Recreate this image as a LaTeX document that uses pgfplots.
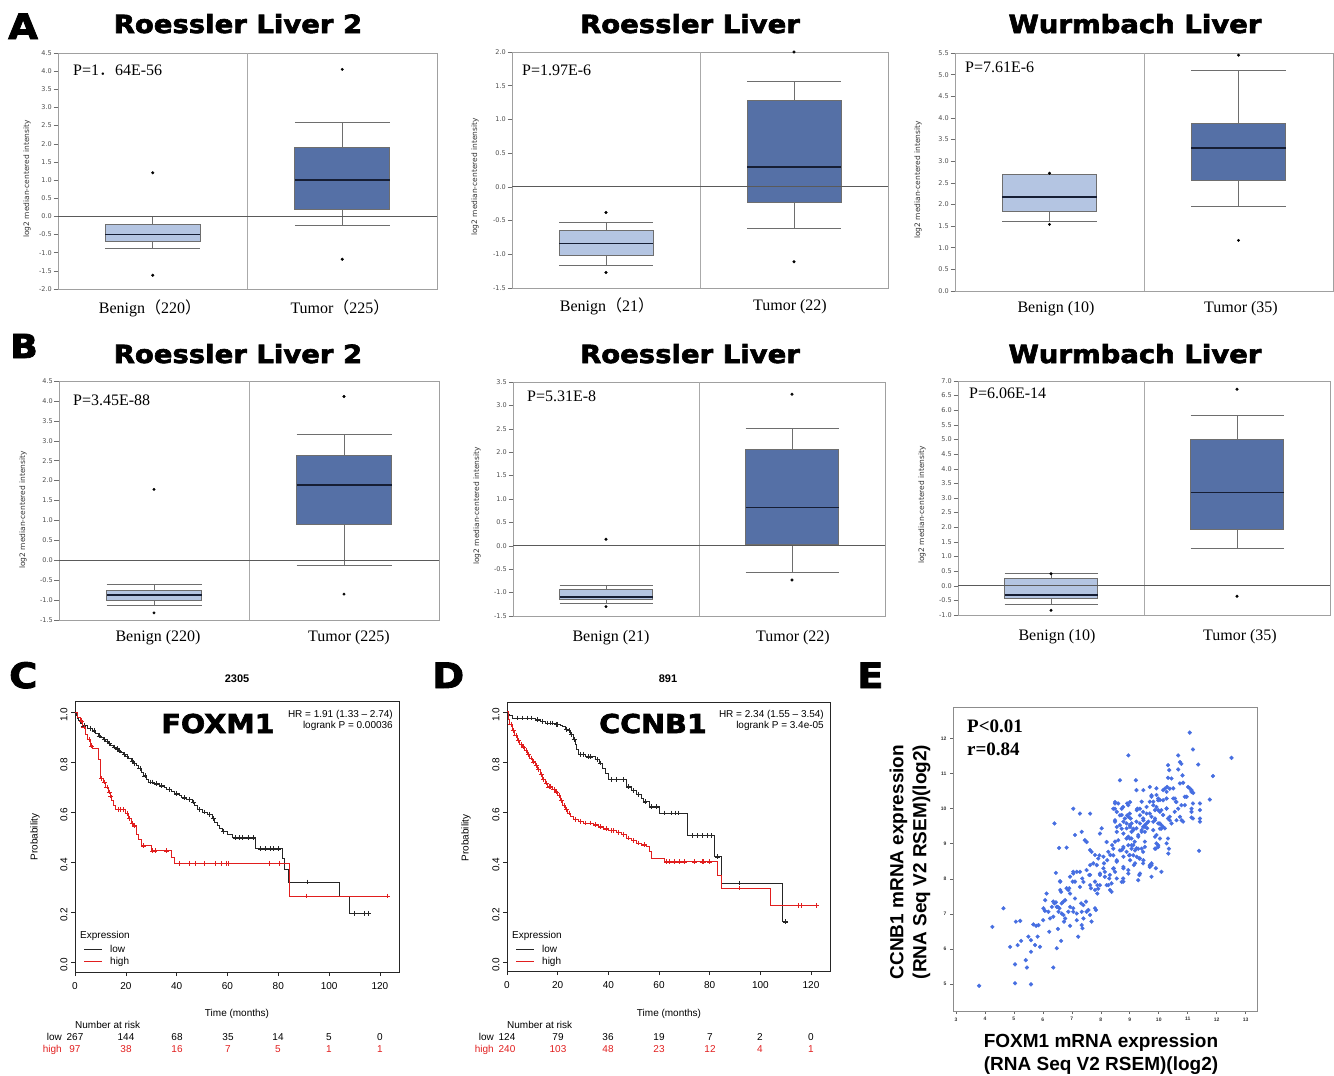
\documentclass[border=0pt]{standalone}
\usepackage{fontspec}
\setmainfont{Liberation Serif}
\setsansfont{Liberation Sans}
\newfontfamily\heavy{DejaVu Sans}[FakeBold=2.5, FakeStretch=1.1]
\newfontfamily\dejavu{DejaVu Sans}
\newfontfamily\cjk{Noto Sans CJK SC}
\usepackage{pgfplots}
\pgfplotsset{compat=1.18}
\usepgfplotslibrary{statistics}

\definecolor{benign}{RGB}{180,197,226}
\definecolor{tumor}{RGB}{85,112,166}
\definecolor{boxedge}{RGB}{110,110,110}
\definecolor{mednavy}{RGB}{22,30,52}
\definecolor{framec}{RGB}{160,160,160}
\definecolor{zeroc}{RGB}{90,90,90}
\definecolor{divc}{RGB}{170,170,170}
\definecolor{kmred}{RGB}{225,30,30}
\definecolor{scat}{RGB}{70,110,225}

\newcommand{\fs}[1]{\fontsize{#1bp}{#1bp}\selectfont}

% one prepared box: position, fill, lower whisker, q1, median, q3, upper whisker
\newcommand{\obox}[7]{%
  \addplot[boxplot prepared={draw position=#1, lower whisker=#3, lower quartile=#4,
      median=#5, upper quartile=#6, upper whisker=#7, box extend=0.5, whisker extend=0.5},
    boxplot/draw direction=y,
    draw=boxedge, line width=0.8bp, fill=#2,
    boxplot/every whisker/.style={fill=none}] coordinates {};
  \pgfmathsetmacro\xl{#1-0.25}\pgfmathsetmacro\xr{#1+0.25}%
  \addplot[mednavy, line width=1.8bp] coordinates {(\xl,#5) (\xr,#5)};}

\pgfplotsset{
  onc/.style={scale only axis, xmin=0, xmax=2, xtick=\empty,
    axis line style={draw=framec, line width=0.8bp},
    tick align=outside, ytick pos=left, major tick length=4.5bp,
    tick style={draw=boxedge, line width=0.5bp},
    yticklabel style={font=\dejavu\fs{6.5}, text=black!70, inner sep=1.5bp},
    yticklabel={\pgfmathprintnumber[fixed, fixed zerofill, precision=1, assume math mode=true]{\tick}},
    clip=false},
  km/.style={scale only axis, xmin=0, xmax=127.5,
    xtick={0,20,...,120}, ytick={0,0.2,...,1},
    tick align=outside, xtick pos=bottom, ytick pos=left, major tick length=4bp,
    axis line style={draw=black!85, line width=0.6bp},
    tick style={draw=black!85, line width=0.5bp},
    ticklabel style={font=\sffamily\fs{10}},
    xticklabel style={yshift=-3bp},
    yticklabel style={rotate=90, anchor=south, xshift=-3bp},
    yticklabel={\pgfmathprintnumber[fixed, fixed zerofill, precision=1, assume math mode=true]{\tick}},
    xticklabel={\pgfmathprintnumber[assume math mode=true]{\tick}},
    clip=false},
  sc/.style={scale only axis, xmin=2.9, xmax=13.39, ymin=4.23, ymax=12.9,
    xtick={3,...,13}, ytick={5,...,12},
    tick align=outside, xtick pos=bottom, ytick pos=left, major tick length=3bp,
    axis line style={draw=black!45, line width=1bp},
    tick style={draw=black!60, line width=0.6bp},
    ticklabel style={font=\sffamily\bfseries\fs{5}, text=black!80},
    /pgf/number format/assume math mode=true, clip=false},
}

\begin{document}
\begin{tikzpicture}
\useasboundingbox (0,0) rectangle (1334bp,-1076bp);

% ---------------- A1 ----------------
\begin{axis}[onc, at={(58bp,-289bp)}, anchor=south west, width=379bp, height=236bp,
  ymin=-2, ymax=4.5, ytick={-2,-1.5,...,4.5}]
\draw[divc, line width=0.8bp] (rel axis cs:0.5,0) -- (rel axis cs:0.5,1);
\obox{0.5}{benign}{-0.88}{-0.68}{-0.5}{-0.22}{0.0}
\obox{1.5}{tumor}{-0.25}{0.2}{1.0}{1.9}{2.6}
\addplot[only marks, mark=*, mark size=1.3bp, black] coordinates {(0.5,1.2) (0.5,-1.62) (1.5,4.05) (1.5,-1.18)};
\draw[zeroc, line width=1bp] (axis cs:0,0) -- (axis cs:2,0);
\end{axis}

% ---------------- A2 ----------------
\begin{axis}[onc, at={(512bp,-288bp)}, anchor=south west, width=376bp, height=236bp,
  ymin=-1.5, ymax=2, ytick={-1.5,-1,...,2}]
\draw[divc, line width=0.8bp] (rel axis cs:0.5,0) -- (rel axis cs:0.5,1);
\obox{0.5}{benign}{-1.17}{-1.01}{-0.84}{-0.65}{-0.52}
\obox{1.5}{tumor}{-0.61}{-0.23}{0.30}{1.28}{1.56}
\addplot[only marks, mark=*, mark size=1.3bp, black] coordinates {(0.5,-0.38) (0.5,-1.27) (1.5,2.0) (1.5,-1.11)};
\draw[zeroc, line width=1bp] (axis cs:0,0) -- (axis cs:2,0);
\end{axis}

% ---------------- A3 ----------------
\begin{axis}[onc, at={(955bp,-291bp)}, anchor=south west, width=378bp, height=238bp,
  ymin=0, ymax=5.5, ytick={0,0.5,...,5.5}]
\draw[divc, line width=0.8bp] (rel axis cs:0.5,0) -- (rel axis cs:0.5,1);
\obox{0.5}{benign}{1.61}{1.83}{2.18}{2.70}{2.70}
\obox{1.5}{tumor}{1.95}{2.56}{3.30}{3.88}{5.09}
\addplot[only marks, mark=*, mark size=1.3bp, black] coordinates {(0.5,2.72) (0.5,1.54) (1.5,5.45) (1.5,1.17)};
\end{axis}

% ---------------- B1 ----------------
\begin{axis}[onc, at={(59bp,-620bp)}, anchor=south west, width=380bp, height=239bp,
  ymin=-1.5, ymax=4.5, ytick={-1.5,-1,...,4.5}]
\draw[divc, line width=0.8bp] (rel axis cs:0.5,0) -- (rel axis cs:0.5,1);
\obox{0.5}{benign}{-1.13}{-1.00}{-0.87}{-0.75}{-0.60}
\obox{1.5}{tumor}{-0.14}{0.91}{1.89}{2.62}{3.17}
\addplot[only marks, mark=*, mark size=1.3bp, black] coordinates {(0.5,1.78) (0.5,-1.32) (1.5,4.11) (1.5,-0.85)};
\draw[zeroc, line width=1bp] (axis cs:0,0) -- (axis cs:2,0);
\end{axis}

% ---------------- B2 ----------------
\begin{axis}[onc, at={(513bp,-616bp)}, anchor=south west, width=372bp, height=234bp,
  ymin=-1.5, ymax=3.5, ytick={-1.5,-1,...,3.5}]
\draw[divc, line width=0.8bp] (rel axis cs:0.5,0) -- (rel axis cs:0.5,1);
\obox{0.5}{benign}{-1.22}{-1.15}{-1.09}{-0.93}{-0.85}
\obox{1.5}{tumor}{-0.57}{0.03}{0.82}{2.07}{2.50}
\addplot[only marks, mark=*, mark size=1.3bp, black] coordinates {(0.5,0.14) (0.5,-1.30) (1.5,3.24) (1.5,-0.73)};
\draw[zeroc, line width=1bp] (axis cs:0,0) -- (axis cs:2,0);
\end{axis}

% ---------------- B3 ----------------
\begin{axis}[onc, at={(958bp,-615bp)}, anchor=south west, width=372bp, height=234bp,
  ymin=-1, ymax=7, ytick={-1,-0.5,...,7}]
\draw[divc, line width=0.8bp] (rel axis cs:0.5,0) -- (rel axis cs:0.5,1);
\obox{0.5}{benign}{-0.65}{-0.42}{-0.31}{0.25}{0.41}
\obox{1.5}{tumor}{1.28}{1.93}{3.19}{5.00}{5.81}
\addplot[only marks, mark=*, mark size=1.3bp, black] coordinates {(0.5,0.41) (0.5,-0.84) (1.5,6.72) (1.5,-0.36)};
\draw[zeroc, line width=1bp] (axis cs:0,0) -- (axis cs:2,0);
\end{axis}

% ---------------- C : FOXM1 KM ----------------
\begin{axis}[km, at={(75bp,-972bp)}, anchor=south west, width=324bp, height=271bp,
  ymin=-0.04, ymax=1.044]
\addplot[const plot, black!85, line width=0.7bp] coordinates {
 (0,1.0) (0.5,0.985) (1,0.975) (1.5,0.965) (2,0.955) (3,0.945) (5,0.935) (7,0.925)
 (8,0.915) (9,0.905) (10,0.897) (11,0.89) (12,0.882) (13,0.875) (14,0.868) (15,0.86)
 (16,0.853) (17,0.845) (18,0.838) (19,0.83) (20,0.822) (21,0.813) (22,0.805) (23,0.795)
 (24,0.785) (25,0.775) (26,0.76) (27,0.745) (28,0.73) (29,0.72) (31,0.713) (33,0.705)
 (35,0.697) (36,0.69) (38,0.682) (39,0.673) (41,0.665) (42,0.657) (44,0.65) (46,0.64)
 (47,0.625) (48,0.61) (50,0.6) (52,0.59) (54,0.575) (55,0.56) (56,0.545) (57,0.535)
 (58,0.523) (60,0.51) (62,0.497) (71,0.453) (81.5,0.413) (82.5,0.37) (84,0.32)
 (104,0.264) (108,0.195) (116,0.195)};
\addplot[only marks, mark=+, mark size=2.4bp, black!85, line width=0.5bp] coordinates {
 (3.5,0.945) (6,0.935) (7.5,0.925) (9.5,0.905) (11.5,0.89) (12.5,0.882) (13.5,0.875)
 (15.5,0.86) (16.5,0.853) (17.5,0.845) (19.5,0.83) (20.5,0.822) (22.5,0.805) (23.5,0.795)
 (25.5,0.775) (27.5,0.745) (29.5,0.72) (30.5,0.72) (32,0.713) (34,0.705) (37,0.69)
 (40,0.673) (43,0.657) (45,0.65) (46.5,0.64) (49,0.61) (51,0.6) (53,0.59) (54.5,0.575)
 (58.5,0.523) (63,0.497) (64.5,0.497) (66,0.497) (68,0.497) (70,0.497) (73,0.453)
 (75,0.453) (77,0.453) (78,0.453) (80,0.453) (91.5,0.32) (110,0.195) (114,0.195) (115.5,0.195)};
\addplot[const plot, kmred, line width=0.7bp] coordinates {
 (0,1.0) (1,0.98) (2,0.965) (3,0.94) (4,0.91) (5,0.89) (6,0.865) (7,0.855) (9,0.81)
 (10,0.735) (11,0.72) (12,0.70) (13,0.68) (14,0.665) (14.5,0.645) (15,0.625) (16,0.61)
 (20,0.595) (21,0.575) (22,0.555) (23,0.545) (24,0.51) (25,0.49) (26,0.465) (30,0.445)
 (38,0.42) (39,0.395) (84.5,0.264) (123,0.264)};
\addplot[only marks, mark=+, mark size=2.4bp, kmred, line width=0.5bp] coordinates {
 (2.5,0.965) (3.5,0.94) (5.5,0.89) (6.5,0.865) (10.5,0.735) (11.5,0.72) (12.5,0.70)
 (13.5,0.68) (14,0.665) (17,0.61) (18,0.61) (19,0.61) (20.5,0.595) (21.5,0.575)
 (22.5,0.555) (23.5,0.545) (27,0.465) (30.5,0.445) (31.5,0.445) (36,0.445) (41,0.395)
 (45,0.395) (47.5,0.395) (51,0.395) (55,0.395) (57.5,0.395) (59.5,0.395) (60.5,0.395)
 (76.5,0.395) (80.5,0.395) (91,0.264) (123,0.264)};
\end{axis}

% ---------------- D : CCNB1 KM ----------------
\begin{axis}[km, at={(507bp,-971bp)}, anchor=south west, width=323bp, height=269bp,
  ymin=-0.037, ymax=1.039]
\addplot[const plot, black!85, line width=0.7bp] coordinates {
 (0,1.0) (0.5,0.99) (1,0.985) (2,0.975) (11,0.968) (13,0.962) (15,0.955) (19,0.95)
 (21,0.945) (22,0.94) (23,0.93) (24,0.925) (25,0.91) (26,0.89) (27,0.87) (27.5,0.85)
 (28,0.83) (31,0.82) (35,0.81) (36.5,0.795) (37.5,0.775) (39,0.755) (40,0.73) (47,0.70)
 (49,0.685) (51,0.67) (53,0.655) (54,0.64) (56,0.62) (60,0.595) (71,0.505) (82,0.42)
 (84.5,0.315) (108.5,0.16) (111,0.16)};
\addplot[only marks, mark=+, mark size=2.4bp, black!85, line width=0.5bp] coordinates {
 (4,0.975) (6,0.975) (8,0.975) (9.5,0.975) (12,0.968) (14,0.962) (16,0.955) (17,0.955)
 (18,0.955) (19.5,0.95) (20,0.95) (23.5,0.93) (24.5,0.925) (25.5,0.91) (26.5,0.89)
 (29,0.83) (30,0.83) (32,0.82) (33,0.82) (35.5,0.81) (37,0.795) (41,0.73) (43,0.73)
 (46,0.73) (48,0.70) (50,0.685) (52,0.67) (54.5,0.64) (57,0.62) (59,0.62) (62,0.595)
 (65,0.595) (66.5,0.595) (67.5,0.595) (73,0.505) (75,0.505) (77,0.505) (79,0.505)
 (80.5,0.505) (83,0.42) (91.5,0.315) (110,0.16)};
\addplot[const plot, kmred, line width=0.7bp] coordinates {
 (0,1.0) (0.5,0.97) (1,0.95) (2,0.925) (3,0.905) (4,0.885) (5,0.87) (6,0.86) (7,0.845)
 (8,0.83) (9,0.815) (10,0.80) (11,0.785) (12,0.77) (13,0.75) (14,0.73) (15,0.715)
 (16,0.70) (18,0.69) (19,0.68) (20,0.665) (21,0.645) (22,0.625) (23,0.61) (24,0.595)
 (25,0.58) (26,0.57) (28,0.562) (30,0.555) (34,0.548) (36,0.54) (38,0.532) (40,0.525)
 (43,0.518) (45,0.51) (47,0.495) (49,0.485) (51,0.475) (53,0.468) (55,0.46) (56,0.44)
 (57,0.415) (62,0.40) (83,0.345) (84.5,0.295) (104,0.225) (123,0.225)};
\addplot[only marks, mark=+, mark size=2.4bp, kmred, line width=0.5bp] coordinates {
 (1.5,0.95) (2.5,0.925) (3.5,0.905) (4.5,0.885) (5.5,0.87) (6.5,0.86) (7.5,0.845)
 (8.5,0.83) (9.5,0.815) (10.5,0.80) (11.5,0.785) (12.5,0.77) (13.5,0.75) (14.5,0.73)
 (15.5,0.715) (16.5,0.70) (17,0.70) (18.5,0.69) (19.5,0.68) (20.5,0.665) (21.5,0.645)
 (22.5,0.625) (23.5,0.61) (24.5,0.595) (27,0.57) (29,0.562) (31,0.555) (33,0.555)
 (35,0.548) (37,0.54) (39,0.532) (41,0.525) (42,0.525) (44,0.518) (46,0.51) (48,0.495)
 (50,0.485) (52,0.475) (54,0.468) (63,0.40) (64,0.40) (66,0.40) (68,0.40) (70,0.40)
 (74,0.40) (77,0.40) (77.5,0.40) (80,0.40) (91.5,0.295) (115,0.225) (116,0.225) (122,0.225)};
\end{axis}

% ---------------- E : scatter ----------------
\begin{axis}[sc, at={(953bp,-1011bp)}, anchor=south west, width=304bp, height=304bp]
\addplot[only marks, mark=*, mark size=1.9bp, scat, mark options={draw=scat, fill=scat}] coordinates {
(3.80,4.95)(4.26,6.63)(4.64,7.16)(4.87,6.06)(5.07,6.78)(5.22,6.80)(5.04,5.56)(5.04,5.02)
(5.13,6.11)(5.25,6.23)(5.41,5.68)(5.45,5.47)(5.50,6.35)(5.59,6.25)(5.59,5.92)(5.59,4.99)
(5.73,6.11)(5.82,6.35)(5.90,6.06)(5.67,6.70)(5.77,6.66)(5.85,6.68)(6.01,6.82)(6.07,7.09)
(6.13,7.58)(6.22,6.49)(6.25,6.87)(6.36,5.47)(6.40,9.58)(6.40,7.30)(6.45,7.33)(6.52,7.20)
(6.45,8.17)(6.48,6.02)(6.52,6.57)(6.56,8.88)(6.59,7.93)(6.63,7.63)(6.57,7.16)(6.65,7.01)
(6.63,6.23)(6.71,7.35)(6.73,6.78)(6.77,6.87)(6.82,8.89)(6.88,7.68)(6.91,7.73)(6.94,7.20)
(6.94,6.66)(7.05,10.0)(7.11,9.25)(7.05,8.15)(7.17,8.20)(7.03,7.92)(7.11,7.44)(7.05,7.06)
(7.17,7.01)(7.22,6.35)(7.17,6.82)(7.28,9.86)(7.34,9.34)(7.28,8.20)(7.36,8.01)(7.32,7.30)
(7.40,6.87)(7.34,6.68)(7.37,6.59)(7.45,9.10)(7.51,9.05)(7.49,7.35)(7.51,7.06)(7.57,7.11)
(7.63,9.86)(7.63,8.82)(7.60,8.11)(7.63,7.82)(7.66,7.73)(7.68,6.78)(7.74,8.44)(7.86,8.39)
(7.80,7.92)(7.88,7.82)(7.83,7.11)(7.95,8.67)(7.97,8.11)(7.97,7.82)(7.88,7.58)(8.03,9.44)
(8.09,8.63)(8.09,8.30)(8.14,8.20)(8.20,7.82)(8.20,9.05)(8.26,8.77)(8.29,8.01)(8.32,7.68)
(8.37,7.63)(8.43,8.67)(8.45,8.30)(8.49,8.20)(8.43,8.86)(8.49,10.15)(8.55,9.91)(8.55,9.34)
(8.60,9.10)(8.55,8.49)(8.55,8.01)(8.66,10.81)(8.72,9.82)(8.78,9.63)(8.72,8.82)(8.78,8.63)
(8.78,8.30)(8.78,7.92)(8.89,9.15)(8.89,9.44)(8.95,11.52)(8.95,8.96)(8.98,8.67)(9.00,9.86)
(9.06,9.58)(9.06,9.34)(9.06,8.96)(9.12,8.67)(9.14,8.39)(9.21,10.81)(9.23,10.53)(9.26,10.0)
(9.23,9.44)(9.29,9.20)(9.29,8.86)(9.33,8.58)(9.33,8.11)(9.29,7.96)(9.41,10.20)(9.46,9.72)
(9.46,9.48)(9.52,9.34)(9.46,8.77)(9.52,9.06)(9.58,9.86)(9.60,9.44)(9.69,10.62)(9.75,10.38)
(9.69,8.39)(9.75,8.06)(9.81,10.20)(9.81,9.63)(9.87,9.96)(9.90,8.86)(9.90,8.30)(9.92,10.58)
(9.98,10.29)(10.04,9.91)(10.09,9.53)(10.09,8.20)(10.04,9.15)(9.98,8.91)(10.15,9.82)(10.21,9.44)
(10.27,10.48)(10.29,10.62)(10.27,10.0)(10.32,9.72)(10.32,11.24)(10.36,11.10)(10.32,9.15)(10.35,8.86)
(10.44,10.86)(10.50,10.58)(10.50,10.29)(10.55,9.91)(10.61,9.67)(10.59,10.20)(10.67,11.52)(10.73,11.33)
(10.78,11.28)(10.73,10.72)(10.82,10.95)(10.78,10.10)(10.84,9.63)(10.90,10.34)(11.01,10.62)(11.07,10.58)
(11.07,12.17)(11.18,11.69)(11.13,10.48)(11.18,10.15)(11.13,9.91)(11.18,9.72)(11.36,11.26)(11.42,10.15)
(11.42,9.96)(11.42,9.72)(11.42,9.63)(11.39,8.80)(11.76,10.26)(11.87,10.93)(12.51,11.45)
(10.32,10.88)(7.68,8.77)(7.97,9.29)(8.39,8.96)(8.49,9.06)(8.60,10.15)(8.77,10.05)(8.91,10.15)
(8.49,9.63)(8.66,9.53)(8.91,9.81)(9.03,9.72)(8.49,10.0)(9.00,9.53)(9.12,9.43)(9.23,9.63)
(9.35,9.81)(9.46,9.91)(9.00,9.15)(9.17,9.06)(8.77,8.87)(8.89,8.77)(9.00,8.68)(9.12,8.96)
(9.23,8.87)(9.41,9.39)(9.52,9.53)(9.64,9.63)(9.58,10.05)(9.69,10.2)(9.81,10.1)(9.92,10.39)
(10.04,10.25)(10.15,10.53)(9.87,9.72)(9.98,9.58)(10.09,9.43)(10.27,10.01)(10.38,9.77)(9.87,9.20)
(9.98,8.96)(9.75,8.39)(9.35,8.58)(9.46,8.44)(8.33,8.68)(8.22,8.53)(8.11,8.44)(7.91,8.58)
(7.80,8.68)(7.97,8.15)(8.14,8.06)(8.31,8.11)(7.63,8.39)(7.51,8.25)(7.63,8.11)(7.40,7.91)
(7.28,7.77)(7.05,8.20)(6.94,8.06)(7.11,7.92)(6.82,7.73)(6.94,7.58)(6.60,7.92)(6.60,7.68)
(6.08,7.39)(7.80,7.68)(7.91,7.72)(8.26,7.82)(8.37,7.87)(8.72,7.91)(8.77,8.01)(8.95,8.15)
(9.35,8.15)(6.36,7.35)(6.48,7.20)(6.31,7.20)(6.65,7.30)(6.77,7.39)(6.54,7.06)(6.71,6.97)
(6.88,7.06)(7.05,7.16)(7.34,7.06)(7.40,7.25)(7.63,6.97)(7.80,7.16)(6.36,6.92)(6.19,7.06)
(6.02,7.16)(10.67,11.12)(10.84,10.74)(9.47,10.53)(10.21,10.57)(10.38,10.57)(11.13,10.53)(11.19,10.45)
(11.13,10.0)(11.13,9.75)(10.96,10.34)(10.90,10.10)(10.61,10.19)(10.67,10.0)(10.73,9.77)(10.79,9.67)
(10.56,10.29)(10.27,10.29)(10.15,10.24)(9.75,10.34)(9.98,10.24)(8.49,10.19)(8.43,10.0)(8.72,10.0)
(8.95,10.1)(9.01,10.19)(8.66,9.81)(8.83,9.72)(8.95,9.77)(9.24,9.96)(9.35,10.0)(9.92,10.05)
(9.98,9.96)(10.09,9.96)(9.69,9.86)(9.75,9.77)(9.87,9.67)(9.47,9.67)(9.35,9.58)(9.58,9.58)
(10.04,9.58)(10.15,9.48)(10.04,9.43)(10.38,9.67)(10.44,9.58)(8.49,9.67)(8.55,9.48)(8.72,9.43)
(8.89,9.58)(9.01,9.48)(9.12,9.39)(8.78,9.29)(8.95,9.20)(9.06,9.15)(9.29,9.25)(9.41,9.34)
(9.52,9.48)(9.81,9.39)(9.92,9.25)(10.27,9.01)(9.41,8.86)(9.52,8.91)(9.87,8.86)(9.92,9.01)
(9.06,8.86)(9.18,8.81)(8.66,8.81)(8.78,8.91)(10.33,8.72)(9.69,8.34)(9.75,8.44)(9.47,8.53)
(9.01,8.53)(9.24,8.63)(8.78,8.34)(8.95,8.25)(9.18,8.44)(8.55,8.53)(8.43,8.29)};
\end{axis}

% ---------------- texts: panels A, B ----------------
\begin{scope}[every node/.style={inner sep=0pt}]
\node[anchor=base west, font=\heavy\bfseries\fs{35}] at (8bp,-39bp) {A};
\node[anchor=base west, font=\heavy\bfseries\fs{33}] at (10bp,-358bp) {B};
\node[anchor=base west, font=\heavy\bfseries\fs{35}] at (9bp,-688bp) {C};
\node[anchor=base west, font=\heavy\bfseries\fs{35}] at (432bp,-688bp) {D};
\node[anchor=base west, font=\heavy\bfseries\fs{35}] at (857bp,-688bp) {E};

\foreach \x/\y/\t in {238/33/Roessler Liver 2, 690/33/Roessler Liver, 1135/33/Wurmbach Liver,
                      238/363/Roessler Liver 2, 690/363/Roessler Liver, 1135/363/Wurmbach Liver}
  \node[anchor=base, font=\heavy\bfseries\fs{25}] at (\x bp,-\y bp) {\t};

\node[anchor=base west, font=\fs{16}] at (73bp,-75bp) {P=1{\cjk ．}64E-56};
\node[anchor=base west, font=\fs{16}] at (522bp,-75bp) {P=1.97E-6};
\node[anchor=base west, font=\fs{16}] at (965bp,-72bp) {P=7.61E-6};
\node[anchor=base west, font=\fs{16}] at (73bp,-405bp) {P=3.45E-88};
\node[anchor=base west, font=\fs{16}] at (527bp,-401bp) {P=5.31E-8};
\node[anchor=base west, font=\fs{16}] at (969bp,-398bp) {P=6.06E-14};

\node[anchor=base, font=\fs{16}] at (150bp,-313bp) {Benign{\cjk （}220{\cjk ）}};
\node[anchor=base, font=\fs{16}] at (340bp,-313bp) {Tumor{\cjk （}225{\cjk ）}};
\node[anchor=base, font=\fs{16}] at (607bp,-311bp) {Benign{\cjk （}21{\cjk ）}};
\node[anchor=base, font=\fs{16}] at (790bp,-310bp) {Tumor (22)};
\node[anchor=base, font=\fs{16}] at (1056bp,-312bp) {Benign (10)};
\node[anchor=base, font=\fs{16}] at (1241bp,-312bp) {Tumor (35)};
\node[anchor=base, font=\fs{16}] at (158bp,-641bp) {Benign (220)};
\node[anchor=base, font=\fs{16}] at (349bp,-641bp) {Tumor (225)};
\node[anchor=base, font=\fs{16}] at (611bp,-641bp) {Benign (21)};
\node[anchor=base, font=\fs{16}] at (793bp,-641bp) {Tumor (22)};
\node[anchor=base, font=\fs{16}] at (1057bp,-640bp) {Benign (10)};
\node[anchor=base, font=\fs{16}] at (1240bp,-640bp) {Tumor (35)};

\foreach \x/\y in {27/179, 475/177, 918/180, 23/510, 477/506, 922/505}
  \node[rotate=90, font=\dejavu\fs{7.5}, text=black!80] at (\x bp,-\y bp) {log2 median-centered intensity};

% ---------------- texts: KM panels ----------------
\node[anchor=base, font=\sffamily\bfseries\fs{11}] at (237bp,-682bp) {2305};
\node[anchor=base, font=\sffamily\bfseries\fs{11}] at (668bp,-682bp) {891};
\node[anchor=base, font=\heavy\bfseries\fs{26}] at (218bp,-733bp) {FOXM1};
\node[anchor=base, font=\heavy\bfseries\fs{26}] at (653bp,-733bp) {CCNB1};
\node[anchor=base east, font=\sffamily\fs{10}] at (393bp,-717bp) {HR = 1.91 (1.33 -- 2.74)};
\node[anchor=base east, font=\sffamily\fs{10}] at (393bp,-728bp) {logrank P = 0.00036};
\node[anchor=base east, font=\sffamily\fs{10}] at (824bp,-717bp) {HR = 2.34 (1.55 -- 3.54)};
\node[anchor=base east, font=\sffamily\fs{10}] at (824bp,-728bp) {logrank P = 3.4e-05};

\foreach \dx in {0, 432} {
  \node[anchor=base west, font=\sffamily\fs{10}] at (80bp+\dx bp,-938bp) {Expression};
  \draw[black!85, line width=0.7bp] (84bp+\dx bp,-949bp) -- (102bp+\dx bp,-949bp);
  \draw[kmred, line width=0.7bp] (84bp+\dx bp,-961bp) -- (102bp+\dx bp,-961bp);
  \node[anchor=base west, font=\sffamily\fs{10}] at (110bp+\dx bp,-952bp) {low};
  \node[anchor=base west, font=\sffamily\fs{10}] at (110bp+\dx bp,-964bp) {high};
  \node[anchor=base west, font=\sffamily\fs{10}] at (75bp+\dx bp,-1028bp) {Number at risk};
  \node[anchor=base east, font=\sffamily\fs{10}] at (62bp+\dx bp,-1040bp) {low};
  \node[anchor=base east, font=\sffamily\fs{10}, text=kmred] at (62bp+\dx bp,-1052bp) {high};
}
\node[anchor=base, font=\sffamily\fs{10}] at (237bp,-1016bp) {Time (months)};
\node[anchor=base, font=\sffamily\fs{10}] at (669bp,-1016bp) {Time (months)};
\node[rotate=90, font=\sffamily\fs{10}] at (35bp,-837bp) {Probability};
\node[rotate=90, font=\sffamily\fs{10}] at (466bp,-838bp) {Probability};

\foreach \x/\a/\b in {75/267/97, 126/144/38, 177/68/16, 228/35/7, 278/14/5, 329/5/1, 380/0/1} {
  \node[anchor=base, font=\sffamily\fs{10}] at (\x bp,-1040bp) {\a};
  \node[anchor=base, font=\sffamily\fs{10}, text=kmred] at (\x bp,-1052bp) {\b};
}
\foreach \x/\a/\b in {507/124/240, 558/79/103, 608/36/48, 659/19/23, 710/7/12, 760/2/4, 811/0/1} {
  \node[anchor=base, font=\sffamily\fs{10}] at (\x bp,-1040bp) {\a};
  \node[anchor=base, font=\sffamily\fs{10}, text=kmred] at (\x bp,-1052bp) {\b};
}

% ---------------- texts: scatter ----------------
\node[anchor=base west, font=\bfseries\fs{19}] at (967bp,-732bp) {P<0.01};
\node[anchor=base west, font=\bfseries\fs{19}] at (967bp,-755bp) {r=0.84};
\node[align=center, font={\sffamily\bfseries\fontsize{19bp}{23bp}\selectfont}] at (1101bp,-1054bp)
  {FOXM1 mRNA expression\\(RNA Seq V2 RSEM)(log2)};
\node[rotate=90, align=center, font={\sffamily\bfseries\fontsize{19bp}{23bp}\selectfont}] at (910bp,-862bp)
  {CCNB1 mRNA expression\\(RNA Seq V2 RSEM)(log2)};
\end{scope}
\end{tikzpicture}
\end{document}
